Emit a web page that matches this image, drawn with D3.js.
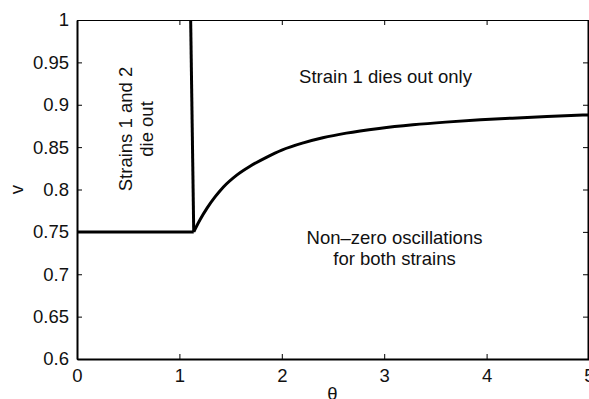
<!DOCTYPE html>
<html>
<head>
<meta charset="utf-8">
<script src="https://cdn.jsdelivr.net/npm/d3@7"></script>
<style>
html,body{margin:0;padding:0;background:#fff;overflow:hidden;}
svg{display:block;}
text{font-family:"Liberation Sans",Arial,Helvetica,sans-serif;fill:#111;}
</style>
</head>
<body>
<svg id="chart" width="589" height="399"></svg>
<script>
// ---- data ----
const xTicks = [0, 1, 2, 3, 4, 5];
const yTicks = [0.6, 0.65, 0.7, 0.75, 0.8, 0.85, 0.9, 0.95, 1];
const flatTheta = [0, 1.14];
const flatV = [0.75, 0.75];
const wallTheta = [1.11, 1.14];
const wallV = [1.0, 0.75];
const curveTheta = [1.14, 1.20, 1.27, 1.35, 1.43, 1.56, 1.69, 1.85, 2.00, 2.21, 2.40, 2.63, 2.95, 3.28, 3.60, 3.94, 4.30, 4.59, 5.00];
const curveV = [0.750, 0.764, 0.778, 0.7915, 0.803, 0.817, 0.8275, 0.838, 0.8465, 0.855, 0.861, 0.8665, 0.872, 0.8763, 0.8795, 0.8822, 0.8845, 0.8862, 0.888];
const labelTop = ["Strain 1 dies out only"];
const labelBottom = ["Non\u2013zero oscillations", "for both strains"];
const labelLeft = ["Strains 1 and 2", "die out"];
const xLabel = "\u03b8";
const yLabel = "v";

// ---- layout ----
const m = {left: 77, right: 589, top: 20, bottom: 359};
const svg = d3.select("#chart");
const x = d3.scaleLinear().domain([0, 5]).range([m.left, m.right]);
const y = d3.scaleLinear().domain([0.6, 1]).range([m.bottom, m.top]);
const FS = 18.5;

// axes (inward ticks, box)
const gx = svg.append("g").attr("transform", `translate(0,${m.bottom})`)
  .call(d3.axisBottom(x).tickValues(xTicks).tickSizeInner(-5).tickSizeOuter(0).tickPadding(10).tickFormat(d3.format("")));
const gxt = svg.append("g").attr("transform", `translate(0,${m.top})`)
  .call(d3.axisTop(x).tickValues(xTicks).tickSizeInner(-5).tickSizeOuter(0).tickFormat(""));
const gy = svg.append("g").attr("transform", `translate(${m.left},0)`)
  .call(d3.axisLeft(y).tickValues(yTicks).tickSizeInner(-5).tickSizeOuter(0).tickPadding(8).tickFormat(d3.format("")));
const gyr = svg.append("g").attr("transform", `translate(${m.right-1},0)`)
  .call(d3.axisRight(y).tickValues(yTicks).tickSizeInner(-5).tickSizeOuter(0).tickFormat(""));

[gx, gxt, gy, gyr].forEach(g => {
  g.selectAll(".domain").attr("stroke", "#000").attr("stroke-width", 2);
  g.selectAll(".tick line").attr("stroke", "#000").attr("stroke-width", 1);
  g.selectAll("text").attr("font-size", FS).attr("font-family", "Liberation Sans, Arial, sans-serif").attr("fill", "#111");
});
gxt.selectAll(".domain").attr("stroke-width", 1.2);

// lines
const mk = (a, b) => a.map((t, i) => [t, b[i]]);
const lin = d3.line().x(d => x(d[0])).y(d => y(d[1]));
const smooth = d3.line().x(d => x(d[0])).y(d => y(d[1])).curve(d3.curveMonotoneX);
svg.append("path").attr("d", lin(mk(flatTheta, flatV)))
  .attr("fill", "none").attr("stroke", "#000").attr("stroke-width", 3);
svg.append("path").attr("d", lin(mk(wallTheta, wallV)))
  .attr("fill", "none").attr("stroke", "#000").attr("stroke-width", 3);
svg.append("path").attr("d", smooth(mk(curveTheta, curveV)))
  .attr("fill", "none").attr("stroke", "#000").attr("stroke-width", 3).attr("stroke-linejoin", "round");

// annotations
svg.append("text").attr("x", 385.5).attr("y", 83).attr("text-anchor", "middle")
  .attr("font-size", FS).text(labelTop[0]);
labelBottom.forEach((s, i) => svg.append("text").attr("x", 394.5).attr("y", 244 + i * 21)
  .attr("text-anchor", "middle").attr("font-size", FS).text(s));
labelLeft.forEach((s, i) => svg.append("text")
  .attr("transform", `translate(${131.5 + i * 21.5},129) rotate(-90)`)
  .attr("text-anchor", "middle").attr("font-size", FS).text(s));

// axis labels
svg.append("text").attr("x", 332.5).attr("y", 399.5)
  .attr("text-anchor", "middle").attr("font-size", FS).text(xLabel);
svg.append("text").attr("transform", `translate(23,${(m.top + m.bottom) / 2}) rotate(-90)`)
  .attr("text-anchor", "middle").attr("font-size", FS).text(yLabel);
</script>
</body>
</html>
